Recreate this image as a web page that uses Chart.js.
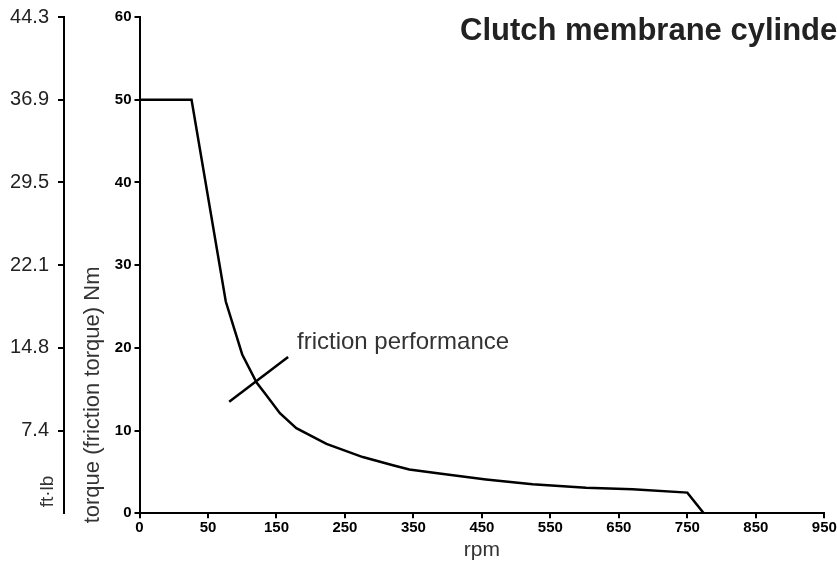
<!DOCTYPE html>
<html><head><meta charset="utf-8">
<script src="https://cdn.jsdelivr.net/npm/chart.js@4.4.1/dist/chart.umd.min.js"></script>
<style>html,body{margin:0;padding:0;background:#fff;overflow:hidden}canvas{display:block}</style>
</head><body>
<canvas id="c" width="837" height="561"></canvas>
<script>
// ---- data ----
const chartTitle = 'Clutch membrane cylinder';
const xTickValues = [0, 50, 150, 250, 350, 450, 550, 650, 750, 850, 950];
const nmTicks = [0, 10, 20, 30, 40, 50, 60];
const ftlbTickLabels = ['', '7.4', '14.8', '22.1', '29.5', '36.9', '44.3'];
const rpm      = [0, 38, 76, 100, 121, 135, 155, 179, 223, 276, 320, 344, 388, 456, 524, 602, 670, 750, 774];
const torqueNm = [50, 50, 25.6, 19.2, 15.8, 14.3, 12.1, 10.3, 8.4, 6.8, 5.8, 5.3, 4.8, 4.1, 3.5, 3.1, 2.9, 2.5, 0];
const leaderRpm = [81, 167];
const leaderNm  = [13.5, 18.9];
const annotationText = 'friction performance';
const annotationRpm = 180;
const annotationNm = 20.7;
const xTitle = 'rpm';
const yTitle = 'torque (friction torque) Nm';
const y2Title = 'ft·lb';

// the rpm axis is evenly spaced by tick label, not linear in rpm
function rpmToPos(v) {
  for (let i = 0; i < xTickValues.length - 1; i++) {
    const a = xTickValues[i], b = xTickValues[i + 1];
    if (v <= b || i === xTickValues.length - 2) return i + (v - a) / (b - a);
  }
}

const FONT = '"Liberation Sans", Arial, Helvetica, sans-serif';
Chart.defaults.font.family = FONT;

const textPlugin = {
  id: 'texts',
  afterDraw(chart) {
    const ctx = chart.ctx;
    const xs = chart.scales.x, ys = chart.scales.y, y2 = chart.scales.y2;
    ctx.save();
    // title
    ctx.fillStyle = '#222';
    ctx.font = 'bold 31px ' + FONT;
    ctx.textAlign = 'left';
    ctx.textBaseline = 'alphabetic';
    ctx.fillText(chartTitle, 460, 40);
    // annotation
    ctx.fillStyle = '#333';
    ctx.font = '24px ' + FONT;
    ctx.textBaseline = 'middle';
    ctx.fillText(annotationText, xs.getPixelForValue(rpmToPos(annotationRpm)), ys.getPixelForValue(annotationNm));
    // rotated axis titles
    ctx.font = '22px ' + FONT;
    ctx.save();
    ctx.translate(ys.left + 29, ys.getPixelForValue(0) + 10);
    ctx.rotate(-Math.PI / 2);
    ctx.fillText(yTitle, 0, 0);
    ctx.restore();
    ctx.font = '19px ' + FONT;
    ctx.save();
    ctx.translate(y2.left + 48, ys.getPixelForValue(0) - 6);
    ctx.rotate(-Math.PI / 2);
    ctx.fillText(y2Title, 0, 0);
    ctx.restore();
    ctx.restore();
  }
};

new Chart(document.getElementById('c'), {
  type: 'scatter',
  data: {
    datasets: [
      {
        data: rpm.map((r, i) => ({ x: rpmToPos(r), y: torqueNm[i] })),
        showLine: true, borderColor: '#000', borderWidth: 2.5, pointRadius: 0,
        tension: 0, fill: false, xAxisID: 'x', yAxisID: 'y'
      },
      {
        data: leaderRpm.map((r, i) => ({ x: rpmToPos(r), y: leaderNm[i] })),
        showLine: true, borderColor: '#000', borderWidth: 2.5, pointRadius: 0,
        tension: 0, fill: false, xAxisID: 'x', yAxisID: 'y'
      }
    ]
  },
  options: {
    responsive: false,
    animation: false,
    devicePixelRatio: 1,
    layout: { padding: { top: 17, right: 12.7, left: 0, bottom: 0 } },
    plugins: { legend: { display: false }, tooltip: { enabled: false } },
    scales: {
      x: {
        type: 'linear', position: 'bottom', min: 0, max: xTickValues.length - 1,
        ticks: {
          stepSize: 1, autoSkip: false, maxRotation: 0, padding: 1,
          callback: v => (xTickValues[v] !== undefined ? String(xTickValues[v]) : ''),
          font: { size: 15, weight: 'bold' }, color: '#000'
        },
        grid: { drawOnChartArea: false, tickLength: 5, lineWidth: 2, color: '#000' },
        border: { display: true, color: '#000', width: 2 },
        title: { display: true, text: xTitle, font: { size: 21, lineHeight: 1 }, color: '#333', padding: 0 },
        afterFit: s => { s.height = 47.7; s.paddingLeft = 0; s.paddingRight = 0; }
      },
      y: {
        type: 'linear', position: 'left', weight: 0, min: 0, max: 60,
        ticks: { stepSize: 10, padding: 3, font: { size: 15, weight: 'bold' }, color: '#000' },
        grid: { drawOnChartArea: false, tickLength: 5, lineWidth: 2, color: '#000' },
        border: { display: true, color: '#000', width: 2 },
        afterFit: s => { s.width = 75.5; s.paddingTop = 0; s.paddingBottom = 0; }
      },
      y2: {
        type: 'linear', position: 'left', weight: 10, min: 0, max: 60,
        ticks: {
          stepSize: 10, padding: 9, font: { size: 20 }, color: '#222',
          callback: v => { const i = nmTicks.indexOf(v); return i >= 0 ? ftlbTickLabels[i] : ''; }
        },
        grid: {
          drawOnChartArea: false, tickLength: 6, lineWidth: 2,
          color: c => (c.tick && c.tick.value === 0 ? 'rgba(0,0,0,0)' : '#000')
        },
        border: { display: true, color: '#000', width: 2 },
        afterFit: s => { s.width = 64; s.paddingTop = 0; s.paddingBottom = 0; }
      }
    }
  },
  plugins: [textPlugin]
});
</script>
</body></html>
